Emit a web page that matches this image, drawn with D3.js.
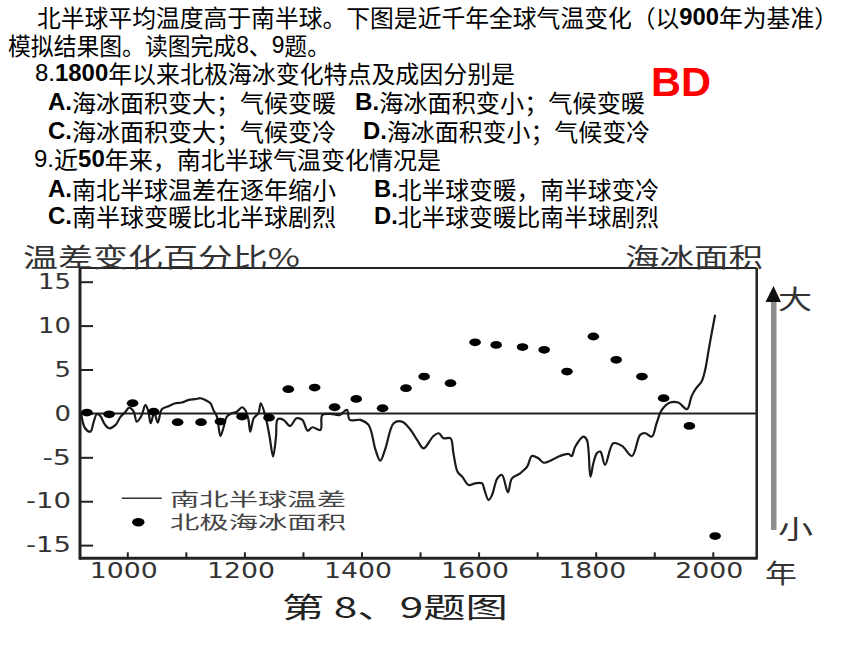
<!DOCTYPE html>
<html><head><meta charset="utf-8">
<script src="https://cdn.jsdelivr.net/npm/d3@7"></script>
<style>body{margin:0;background:#fff}svg{display:block}</style>
</head><body><svg id="c" width="860" height="645"></svg>
<script>
// ---- data ----
const lineYears = [921,928,937,942,948,954,961,969,980,988,997,1003,1011,1016,1024,1031,1036,1040,1046,1052,1059,1069,1082,1093,1105,1116,1125,1133,1142,1147,1153,1159,1164,1170,1178,1187,1196,1202,1207,1210,1216,1224,1228,1236,1243,1249,1254,1257,1267,1278,1289,1299,1308,1316,1330,1333,1347,1363,1375,1380,1398,1412,1424,1432,1441,1455,1469,1483,1495,1505,1509,1523,1532,1540,1552,1557,1564,1572,1583,1594,1606,1610,1617,1623,1632,1640,1650,1657,1671,1683,1691,1702,1711,1725,1739,1754,1759,1765,1779,1785,1791,1796,1802,1808,1816,1830,1845,1862,1876,1885,1896,1904,1913,1927,1941,1956,1964,1972,1981,1987,1993,1998,2004];
const lineValues = [0.02,-1.69,-2.07,-1.12,-0.06,-0.29,-1.2,-1.69,-1.31,-0.43,0.2,0.66,0.2,-0.93,-0.29,0.97,0.2,-1.12,0.1,-1.04,0.48,0.78,1.16,1.24,1.54,1.62,1.73,1.54,1.16,0.4,-0.36,-2.57,-1.69,-0.36,0.02,0.2,0.7,0.32,-0.74,-2.07,-0.55,0.02,1.16,-0.36,-2.64,-4.9,-2.64,-0.66,-0.74,-1.43,-0.55,-0.74,-1.96,-1.58,-1.88,-0.17,-0.06,-0.17,0.4,-0.74,-0.74,-1.31,-4.16,-5.38,-3.97,-1.12,-0.93,-1.8,-3.02,-3.97,-3.86,-2.57,-2.26,-2.83,-2.83,-4.54,-6.64,-7.2,-8.15,-7.96,-7.96,-8.72,-9.86,-9.29,-7.39,-7.01,-8.99,-7.39,-6.82,-6.07,-4.85,-5.11,-5.61,-5.3,-4.85,-4.62,-4.85,-3.79,-2.64,-3.02,-7.2,-5.68,-4.54,-4.35,-5.87,-3.4,-3.7,-4.85,-2.45,-2.26,-2.64,-1.12,0.4,1.24,1.24,0.48,2.0,2.9,3.63,4.96,7.24,9.1,11.23];
const iceYears = [931,969,1009,1045,1086,1126,1159,1196,1242,1275,1320,1354,1391,1436,1476,1507,1552,1594,1630,1675,1712,1751,1796,1835,1879,1916,1960,2004];
const iceValues = [0.1,-0.1,1.16,0.2,-1.0,-1.0,-0.93,-0.36,-0.48,2.76,2.94,0.7,1.65,0.59,2.87,4.2,3.44,8.1,7.8,7.55,7.24,4.77,8.76,6.1,4.2,1.73,-1.43,-13.97];
const xTicks = [1000,1100,1200,1300,1400,1500,1600,1700,1800,1900,2000];
const xTickLabels = ["1000","","1200","","1400","","1600","","1800","","2000"];
const yTicks = [15,10,5,0,-5,-10,-15];
const yTickLabels = ["15","10","5","0","-5","-10","-15"];
const seriesNames = ["南北半球温差","北极海冰面积"];

// ---- header text ----
const header = [
  {x:37,y:16,w:801,parts:[["北半球平均温度高于南半球。下图是近千年全球气温变化（以",0],["900",1],["年为基准）",0]]},
  {x:8,y:44,w:322,parts:[["模拟结果图。读图完成",0],["8",2],["、",0],["9",2],["题。",0]]},
  {x:35,y:72,w:480,parts:[["8.",2],["1800",1],["年以来北极海冰变化特点及成因分别是",0]]},
  {x:48,y:101,w:288,parts:[["A.",1],["海冰面积变大；气候变暖",0]]},
  {x:355,y:101,w:290,parts:[["B.",1],["海冰面积变小；气候变暖",0]]},
  {x:48,y:130,w:288,parts:[["C.",1],["海冰面积变大；气候变冷",0]]},
  {x:363,y:130,w:287,parts:[["D.",1],["海冰面积变小；气候变冷",0]]},
  {x:34,y:158,w:407,parts:[["9.",2],["近",0],["50",1],["年来，南北半球气温变化情况是",0]]},
  {x:48,y:188,w:288,parts:[["A.",1],["南北半球温差在逐年缩小",0]]},
  {x:374,y:188,w:285,parts:[["B.",1],["北半球变暖，南半球变冷",0]]},
  {x:48,y:215,w:288,parts:[["C.",1],["南半球变暖比北半球剧烈",0]]},
  {x:374,y:215,w:285,parts:[["D.",1],["北半球变暖比南半球剧烈",0]]}
];

const svg = d3.select("#c");
const cjk = "'Noto Sans CJK SC','Noto Sans',sans-serif";
const lat = "'Liberation Sans',Arial,sans-serif";

header.forEach(h => {
  const t = svg.append("text").attr("x",h.x).attr("y",h.y)
    .attr("dominant-baseline","central").attr("font-size",24).attr("fill","#000")
    .attr("textLength",h.w).attr("lengthAdjust","spacingAndGlyphs");
  h.parts.forEach(p => {
    t.append("tspan").text(p[0])
      .attr("font-family", p[1] ? lat : cjk)
      .attr("font-weight", p[1]===1 ? "bold" : "normal");
  });
});
svg.append("text").attr("x",651).attr("y",82).attr("dominant-baseline","central")
  .attr("font-family",lat).attr("font-weight","bold").attr("font-size",40).attr("fill","#ff0000")
  .attr("textLength",60).attr("lengthAdjust","spacingAndGlyphs").text("BD");

// ---- chart ----
const L=80, R=756.7, T=268, B=558.3;
const x = d3.scaleLinear().domain([919.2,2075]).range([L,R]);
const y = d3.scaleLinear().domain([-16.5,16.56]).range([B,T]);
const num = "'DejaVu Sans',Verdana,sans-serif";

// frame
svg.append("line").attr("x1",L).attr("x2",R).attr("y1",T).attr("y2",T).attr("stroke","#222").attr("stroke-width",2);
svg.append("line").attr("x1",R).attr("x2",R).attr("y1",T).attr("y2",B).attr("stroke","#222").attr("stroke-width",2.5);
// zero line
svg.append("line").attr("x1",L).attr("x2",R).attr("y1",y(0)).attr("y2",y(0)).attr("stroke","#222").attr("stroke-width",2);

// y axis
const gy = svg.append("g").attr("transform",`translate(${L},0)`)
  .call(d3.axisLeft(y).tickValues(yTicks).tickSize(-13).tickPadding(9).tickFormat((d,i)=>yTickLabels[i]));
gy.attr("font-family",num).attr("font-size",21);
gy.select(".domain").remove();
gy.selectAll(".tick line").attr("stroke","#222").attr("stroke-width",2);
gy.selectAll(".tick text").attr("fill","#333").each(function(){
  const s=this.textContent; const w=(s.replace("-","").length)*16.5 + (s.startsWith("-")?12:0);
  d3.select(this).attr("textLength",w).attr("lengthAdjust","spacingAndGlyphs");
});

// x axis
const gx = svg.append("g").attr("transform",`translate(0,${B})`)
  .call(d3.axisBottom(x).tickValues(xTicks).tickSize(-6).tickPadding(5).tickFormat((d,i)=>xTickLabels[i]));
gx.attr("font-family",num).attr("font-size",21);
gx.select(".domain").remove();
gx.selectAll(".tick line").attr("stroke","#222").attr("stroke-width",2);
gx.selectAll(".tick text").attr("fill","#333").attr("dx",-4).each(function(){
  if(this.textContent) d3.select(this).attr("textLength",68).attr("lengthAdjust","spacingAndGlyphs");
});
// left and bottom axis lines
svg.append("line").attr("x1",L).attr("x2",L).attr("y1",T-1).attr("y2",B+1.5).attr("stroke","#222").attr("stroke-width",3);
svg.append("line").attr("x1",L).attr("x2",R+1).attr("y1",B).attr("y2",B).attr("stroke","#222").attr("stroke-width",3);

// temperature difference line
const lineData = lineYears.map((d,i)=>[d,lineValues[i]]);
svg.append("path").datum(lineData)
  .attr("d", d3.line().x(d=>x(d[0])).y(d=>y(d[1])).curve(d3.curveCatmullRom.alpha(0.5)))
  .attr("fill","none").attr("stroke","#1a1a1a").attr("stroke-width",2.2).attr("stroke-linejoin","round");

// sea ice dots
svg.append("g").selectAll("ellipse").data(iceYears.map((d,i)=>[d,iceValues[i]])).join("ellipse")
  .attr("cx",d=>x(d[0])).attr("cy",d=>y(d[1])).attr("rx",5.8).attr("ry",3.9).attr("fill","#000");

// axis titles
const gray="#333";
svg.append("text").attr("x",23).attr("y",255).attr("dominant-baseline","central")
  .attr("font-family",cjk).attr("font-size",26).attr("fill",gray)
  .attr("textLength",277).attr("lengthAdjust","spacingAndGlyphs").text("温差变化百分比%");
svg.append("text").attr("x",625).attr("y",255).attr("dominant-baseline","central")
  .attr("font-family",cjk).attr("font-size",26).attr("fill",gray)
  .attr("textLength",138).attr("lengthAdjust","spacingAndGlyphs").text("海冰面积");
svg.append("text").attr("x",765).attr("y",571).attr("dominant-baseline","central")
  .attr("font-family",cjk).attr("font-size",26).attr("fill",gray)
  .attr("textLength",32).attr("lengthAdjust","spacingAndGlyphs").text("年");

// right-side size arrow
svg.append("rect").attr("x",771).attr("y",296).attr("width",5.5).attr("height",234).attr("fill","#8c8c8c");
svg.append("path").attr("d","M765.5,302 L781,302 L773.5,286 Z").attr("fill","#111");
svg.append("text").attr("x",778).attr("y",297).attr("dominant-baseline","central")
  .attr("font-family",cjk).attr("font-size",26).attr("fill",gray)
  .attr("textLength",34).attr("lengthAdjust","spacingAndGlyphs").text("大");
svg.append("text").attr("x",778).attr("y",527).attr("dominant-baseline","central")
  .attr("font-family",cjk).attr("font-size",26).attr("fill",gray)
  .attr("textLength",35).attr("lengthAdjust","spacingAndGlyphs").text("小");

// legend
svg.append("line").attr("x1",121.7).attr("x2",161.7).attr("y1",498.3).attr("y2",498.3).attr("stroke","#333").attr("stroke-width",1.6);
svg.append("ellipse").attr("cx",138.3).attr("cy",522.3).attr("rx",6.2).attr("ry",4.2).attr("fill","#000");
[[497.5,seriesNames[0]],[520.5,seriesNames[1]]].forEach(d=>{
  svg.append("text").attr("x",170).attr("y",d[0]).attr("dominant-baseline","central")
    .attr("font-family",cjk).attr("font-size",18).attr("fill","#444")
    .attr("textLength",176).attr("lengthAdjust","spacingAndGlyphs").text(d[1]);
});

// caption
svg.append("text").attr("x",282).attr("y",606).attr("dominant-baseline","central")
  .attr("font-family",cjk).attr("font-size",28).attr("fill","#222")
  .attr("textLength",226).attr("lengthAdjust","spacingAndGlyphs").text("第 8、9题图");
</script></body></html>
